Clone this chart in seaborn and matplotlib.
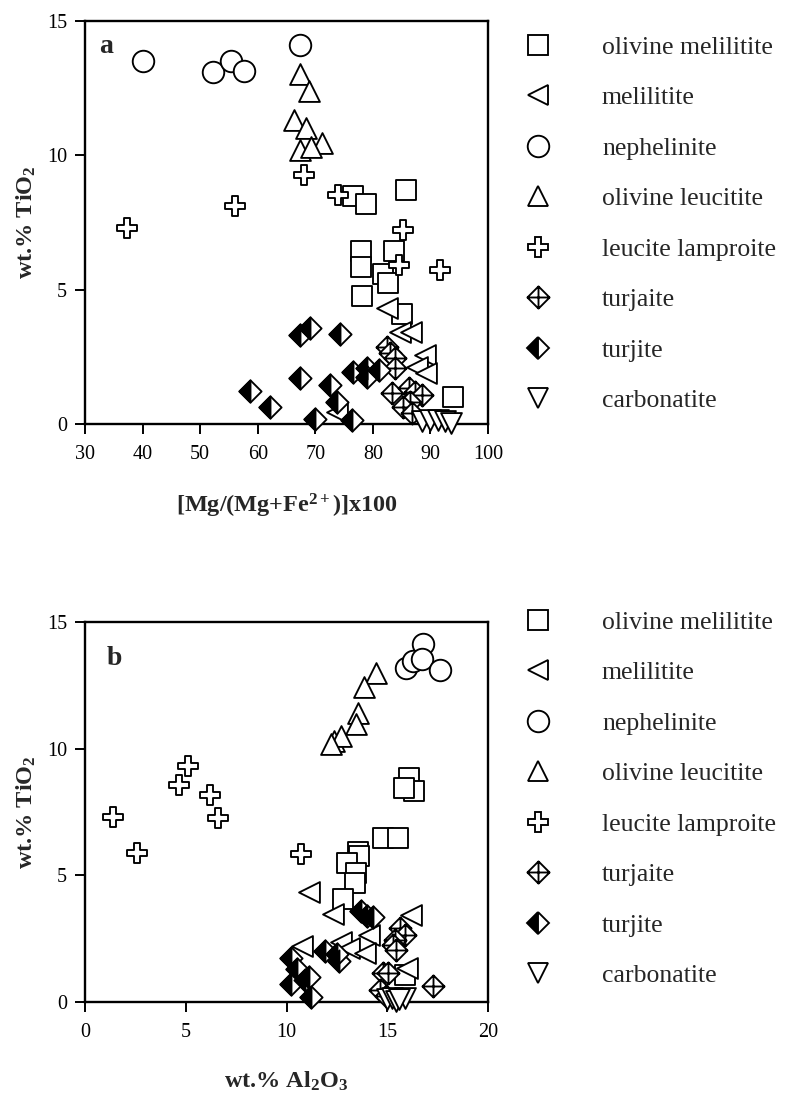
import numpy as np
import pandas as pd
import matplotlib
matplotlib.use("Agg")
import matplotlib.pyplot as plt
import seaborn as sns
from matplotlib.path import Path
from matplotlib.markers import MarkerStyle
from matplotlib.lines import Line2D

# ---------------- data ----------------
rock_types = ["olivine melilitite", "melilitite", "nephelinite", "olivine leucitite",
              "leucite lamproite", "turjaite", "turjite", "carbonatite"]

# panel a: Mg# vs TiO2
mg_olmel = [76.5, 78.8, 85.8, 78.0, 78.0, 83.6, 81.8, 82.6, 78.1, 85.1, 94.0]
ti_olmel_a = [8.5, 8.2, 8.7, 6.45, 5.85, 6.44, 5.6, 5.25, 4.75, 4.1, 1.0]
mg_mel = [82.4, 84.7, 86.7, 89.1, 87.6, 89.3, 73.7]
ti_mel_a = [4.3, 3.43, 3.43, 2.57, 2.13, 1.88, 0.46]
mg_neph = [40.0, 52.2, 55.3, 57.7, 67.4]
ti_neph_a = [13.5, 13.1, 13.5, 13.15, 14.1]
mg_olleu = [67.3, 68.9, 66.3, 68.4, 67.4, 71.1, 69.2]
ti_olleu_a = [13.03, 12.39, 11.33, 11.0, 10.2, 10.46, 10.3]
mg_lamp = [37.3, 56.1, 68.0, 73.9, 85.2, 91.6, 84.6]
ti_lamp_a = [7.28, 8.11, 9.25, 8.51, 7.22, 5.75, 5.9]
mg_turjaite = [82.4, 83.0, 83.9, 83.9, 83.3, 86.2, 87.3, 88.5, 86.5, 85.3, 86.8]
ti_turjaite_a = [2.87, 2.63, 2.44, 2.07, 1.14, 1.33, 1.2, 1.08, 0.83, 0.64, 0.40]
mg_turjite = [58.7, 62.1, 67.3, 69.1, 74.3, 67.3, 72.6, 73.7, 76.6, 78.9, 78.9, 81.0, 69.9, 76.3]
ti_turjite_a = [1.24, 0.64, 3.31, 3.56, 3.35, 1.70, 1.45, 0.83, 1.94, 2.07, 1.76, 2.0, 0.17, 0.15]
mg_carb = [88.6, 90.0, 91.3, 92.5, 93.6]
ti_carb_a = [0.1, 0.15, 0.15, 0.1, 0.05]

# panel b: Al2O3 vs TiO2
al_olmel = [16.1, 16.35, 15.85, 14.8, 15.55, 13.55, 13.6, 13.0, 13.45, 13.4, 12.8, 15.9]
ti_olmel_b = [8.84, 8.34, 8.45, 6.49, 6.49, 5.91, 5.75, 5.5, 5.09, 4.69, 4.08, 1.07]
al_mel = [11.1, 12.3, 16.2, 14.1, 10.75, 12.7, 13.1, 13.9, 16.0]
ti_mel_b = [4.35, 3.47, 3.43, 2.65, 2.2, 2.35, 2.15, 1.95, 1.35]
al_neph = [16.78, 15.92, 16.28, 16.74, 17.6]
ti_neph_b = [14.12, 13.2, 13.47, 13.54, 13.1]
al_olleu = [14.46, 13.85, 13.55, 13.45, 12.35, 12.7, 12.2]
ti_olleu_b = [13.0, 12.45, 11.4, 10.97, 10.3, 10.5, 10.2]
al_lamp = [1.4, 2.56, 4.66, 5.09, 6.2, 6.61, 10.71]
ti_lamp_b = [7.32, 5.9, 8.57, 9.32, 8.18, 7.28, 5.84]
al_turjaite = [15.62, 15.87, 15.37, 15.29, 15.45, 14.79, 15.04, 17.27, 14.63, 14.96]
ti_turjaite_b = [2.93, 2.66, 2.46, 2.26, 2.05, 1.15, 1.15, 0.64, 0.47, 0.23]
al_turjite = [10.2, 10.5, 10.9, 10.2, 11.2, 11.9, 12.6, 13.7, 14.0, 14.3, 11.1, 12.5]
ti_turjite_b = [1.75, 1.3, 0.85, 0.7, 0.2, 2.0, 1.6, 3.6, 3.4, 3.35, 1.0, 1.9]
al_carb = [15.0, 15.25, 15.45, 15.9, 15.6]
ti_carb_b = [0.1, 0.15, 0.05, 0.15, 0.1]

xticks_a = [30, 40, 50, 60, 70, 80, 90, 100]
xticks_b = [0, 5, 10, 15, 20]
yticks = [0, 5, 10, 15]

# ---------------- style ----------------
sns.set_style("ticks")
plt.rcParams["font.family"] = ["Liberation Serif", "DejaVu Serif"]
plt.rcParams["mathtext.fontset"] = "custom"
plt.rcParams["mathtext.rm"] = "Liberation Serif"
plt.rcParams["mathtext.bf"] = "Liberation Serif:bold"
plt.rcParams["mathtext.it"] = "Liberation Serif:italic"

M, L, C = Path.MOVETO, Path.LINETO, Path.CLOSEPOLY
diamond_cross = MarkerStyle(Path(
    [(0, 1), (1, 0), (0, -1), (-1, 0), (0, 1), (0, 1), (0, -1), (-1, 0), (1, 0)],
    [M, L, L, L, C, M, L, M, L]))
diamond = MarkerStyle(Path([(0, 1), (1, 0), (0, -1), (-1, 0), (0, 1)], [M, L, L, L, C]))
left_half = MarkerStyle(Path([(0, 1), (-1, 0), (0, -1), (0, 1)], [M, L, L, C]))

LW = 1.35
SZ = 15.0
DSZ = 16.0

fig = plt.figure(figsize=(7.85, 11.11), dpi=100)
ax_a = fig.add_axes([85 / 785, 1 - 424 / 1111, 403 / 785, 403 / 1111])
ax_b = fig.add_axes([85 / 785, 1 - 1002 / 1111, 403 / 785, 380 / 1111])


def draw(ax, groups):
    for (x, y, mk, size, fc) in groups:
        sns.scatterplot(x=x, y=y, marker=mk, s=size ** 2, color=fc, edgecolor="black",
                        linewidth=LW, ax=ax, clip_on=False, zorder=3, legend=False)


groups_a = [
    (mg_olmel, ti_olmel_a, "s", SZ, "white"),
    (mg_mel, ti_mel_a, "<", SZ, "white"),
    (mg_neph, ti_neph_a, "o", SZ + 0.5, "white"),
    (mg_olleu, ti_olleu_a, "^", SZ, "white"),
    (mg_lamp, ti_lamp_a, "P", SZ, "white"),
    (mg_turjaite, ti_turjaite_a, diamond_cross, DSZ, "white"),
    (mg_turjite, ti_turjite_a, diamond, DSZ, "white"),
    (mg_turjite, ti_turjite_a, left_half, DSZ, "black"),
    (mg_carb, ti_carb_a, "v", SZ, "white"),
]
groups_b = [
    (al_olmel, ti_olmel_b, "s", SZ, "white"),
    (al_mel, ti_mel_b, "<", SZ, "white"),
    (al_neph, ti_neph_b, "o", SZ + 0.5, "white"),
    (al_olleu, ti_olleu_b, "^", SZ, "white"),
    (al_lamp, ti_lamp_b, "P", SZ, "white"),
    (al_turjaite, ti_turjaite_b, diamond_cross, DSZ, "white"),
    (al_turjite, ti_turjite_b, diamond, DSZ, "white"),
    (al_turjite, ti_turjite_b, left_half, DSZ, "black"),
    (al_carb, ti_carb_b, "v", SZ, "white"),
]
draw(ax_a, groups_a)
draw(ax_b, groups_b)

for ax, xt in ((ax_a, xticks_a), (ax_b, xticks_b)):
    ax.set_xlim(xt[0], xt[-1])
    ax.set_ylim(0, 15)
    ax.set_xticks(xt)
    ax.set_yticks(yticks)
    ax.tick_params(direction="out", length=7, width=1.4, labelsize=14.5, colors="black", pad=8)
    ax.tick_params(axis="y", pad=6)
    for sp in ax.spines.values():
        sp.set_visible(True)
        sp.set_linewidth(1.7)
        sp.set_color("black")
    ax.set_ylabel(r"wt.% TiO$_{\mathbf{2}}$", fontsize=17.5, fontweight="bold", labelpad=6)

ax_a.set_xlabel(r"[Mg/(Mg+Fe$^{\mathbf{2+}}$)]x100", fontsize=17.5, fontweight="bold", labelpad=20)
ax_b.set_xlabel(r"wt.% Al$_{\mathbf{2}}$O$_{\mathbf{3}}$", fontsize=17.5, fontweight="bold", labelpad=20)
ax_a.text(0.035, 0.937, "a", transform=ax_a.transAxes, fontsize=20, fontweight="bold", va="center")
ax_b.text(0.053, 0.905, "b", transform=ax_b.transAxes, fontsize=20, fontweight="bold", va="center")


def handles():
    kw = dict(linestyle="None", markerfacecolor="white", markeredgecolor="black", markeredgewidth=LW)
    return [
        Line2D([], [], marker="s", markersize=SZ, **kw),
        Line2D([], [], marker="<", markersize=SZ, **kw),
        Line2D([], [], marker="o", markersize=SZ + 0.5, **kw),
        Line2D([], [], marker="^", markersize=SZ, **kw),
        Line2D([], [], marker="P", markersize=SZ, **kw),
        Line2D([], [], marker=diamond_cross, markersize=DSZ, **kw),
        Line2D([], [], marker="D", markersize=DSZ / 1.414, fillstyle="left", linestyle="None",
               markerfacecolor="black", markerfacecoloralt="white", markeredgecolor="black",
               markeredgewidth=LW),
        Line2D([], [], marker="v", markersize=SZ, **kw),
    ]


for top in (36, 611):
    fig.legend(handles(), rock_types, loc="upper left",
               bbox_to_anchor=(527.7 / 785, 1 - top / 1111), frameon=False, fontsize=18.5,
               labelspacing=1.07, handlelength=0.8, handletextpad=2.09, borderpad=0,
               borderaxespad=0)

fig.savefig("out.png", dpi=100, facecolor="white")
